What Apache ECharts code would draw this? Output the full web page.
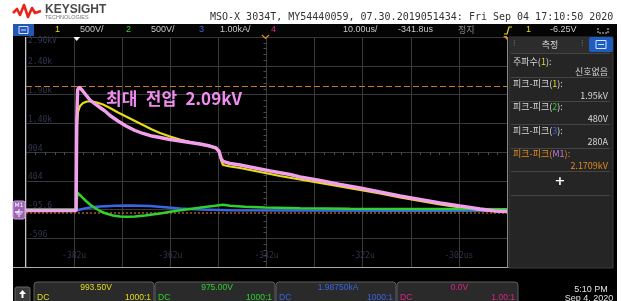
<!DOCTYPE html>
<html>
<head>
<meta charset="utf-8">
<script src="https://cdn.jsdelivr.net/npm/echarts@6/dist/echarts.min.js"></script>
<style>html,body{margin:0;padding:0;background:#fff}#c{width:621px;height:301px}</style>
</head>
<body>
<div id="c"></div>
<script>
// ---- data (time in µs from left screen edge, 10 µs/div; screen left = -391.8 µs) ----
const m1Time = [0,10.40,10.56,10.73,11.02,11.64,12.47,13.31,14.35,15.38,16.42,17.46,19.13,20.79,22.66,24.32,26.20,27.86,29.94,32.02,34.10,36.17,38.25,39.50,40.12,40.54,40.96,42.41,44.49,46.57,50.73,54.89,56.96,61.12,65.28,69.44,73.60,77.76,81.92,86.08,90.23,94.39,97.51,100];
const m1Volt = [-17,-17,1556,2078,2130,2078,1991,1904,1835,1774,1713,1635,1539,1452,1374,1322,1278,1252,1217,1191,1165,1139,1104,1070,1017,896,835,800,774,739,670,609,565,504,435,374,304,235,174,113,61,9,-26,-35];

const ch1Time = [0,10.46,10.60,10.81,11.23,11.85,12.68,13.72,14.76,16.01,17.46,19.13,20.79,22.66,24.32,26.20,27.86,29.94,32.02,34.10,36.17,38.25,39.50,40.12,40.54,40.96,42.41,44.49,48.65,52.81,56.96,61.12,65.28,69.44,73.60,77.76,81.92,86.08,90.23,94.39,97.51,100];
const ch1Volt = [-9,-9,1469,1696,1800,1852,1878,1878,1861,1826,1765,1687,1617,1539,1469,1391,1330,1270,1217,1174,1139,1096,1061,1000,861,774,748,722,652,583,522,461,400,339,278,209,148,87,35,-9,-26,-35];

const ch2Time = [0,10.50,10.65,11.02,11.64,12.47,13.31,14.35,15.38,16.63,18.09,19.54,21.00,22.66,24.74,27.86,30.98,34.10,37.21,39.29,40.96,42.41,45.53,49.69,56.96,67.36,77.76,88.15,100];
const ch2Volt = [0,0,296,270,217,148,87,26,-26,-70,-104,-122,-127,-122,-104,-70,-26,9,43,64,82,64,47,35,21,12,9,9,3];

const ch3Time = [0,10.50,11.23,13.31,15.38,18.50,21.62,25.78,28.90,32.02,36.17,42.41,56.96,77.76,100];
const ch3Amp  = [-42,-42,0,70,104,129,136,122,80,35,-3,-24,-38,-45,-45];

const cursorLevels = [2135, -61];           // orange dashed (M1 cursor) and dotted reference
const voltTickLabels = ['-596','-95.6','404','904','1.40k','1.90k','2.40k','2.90kV'];
const timeTickValues = [10,30,50,70,90];
const timeTickLabels = ['-382u','-362u','-342u','-322u','-302us'];

const measNames  = ['주파수(1):','피크-피크(1):','피크-피크(2):','피크-피크(3):','피크-피크(M1):'];
const measValues = ['신호없음','1.95kV','480V','280A','2.1709kV'];
const chanOffsets = ['993.50V','975.00V','1.98750kA','0.0V'];
const chanProbe   = ['1000:1','1000:1','1000:1','1.00:1'];
const chanScale   = ['500V/','500V/','1.00kA/'];

// ---- colours ----
const C1='#e6de14', C2='#2fd02f', C3='#3a66e6', C4='#e0208a', CM='#f2a0ee', OR='#e08a20';
const GRID='#3a3a3a', LBL='#30354f';
const pairs=(a,b)=>a.map((t,i)=>[t,b[i]]);

const chart = echarts.init(document.getElementById('c'), null, {renderer:'canvas'});

const g = []; // decorations
const T=(x,y,text,fill,font,align,extra)=>({type:'text',x:x,y:y,z:100,style:Object.assign({text:text,fill:fill,font:font,align:align||'left',verticalAlign:'middle'},extra||{})});
// screen background
g.push({type:'rect',z:-100,shape:{x:13,y:24,width:604,height:277},style:{fill:'#000'}});
g.push({type:'rect',z:-99,shape:{x:13,y:24,width:604,height:12},style:{fill:'#050505'}});
// logo
g.push({type:'polyline',z:100,shape:{points:[[13,13],[17,9],[20,15],[24,5],[28,17],[32,8],[35,13],[41,11]]},style:{stroke:'#e8251b',lineWidth:2.6,fill:null,lineJoin:'round'}});
g.push(T(45,10,'KEYSIGHT','#4a4a4a','bold 12px "Liberation Sans"'));
g.push(T(45,17.5,'TECHNOLOGIES','#777','5.5px "Liberation Sans"'));
g.push(T(210,17,'MSO-X 3034T, MY54440059, 07.30.2019051434: Fri Sep 04 17:10:50 2020','#333','10px "DejaVu Sans Mono"'));
// top bar
g.push({type:'rect',z:100,shape:{x:13,y:24,width:21,height:12},style:{fill:'#2457b4'}});
g.push({type:'rect',z:101,shape:{x:19,y:26.5,width:9,height:7},style:{fill:null,stroke:'#cfe0ff',lineWidth:1}});
g.push({type:'line',z:101,shape:{x1:21,y1:30,x2:26,y2:30},style:{stroke:'#cfe0ff',lineWidth:1}});
const bf='9px "Liberation Sans"';
g.push(T(55,30,'1',C1,bf)); g.push(T(80,30,chanScale[0],'#c8c8c8',bf));
g.push(T(126,30,'2',C2,bf)); g.push(T(151,30,chanScale[1],'#c8c8c8',bf));
g.push(T(199,30,'3',C3,bf)); g.push(T(220,30,chanScale[2],'#c8c8c8',bf));
g.push(T(271,30,'4',C4,bf));
g.push(T(343,30,'10.00us/','#c8c8c8',bf));
g.push(T(398,30,'-341.8us','#c8c8c8',bf));
g.push(T(458,30,'정지','#8a8a8a','9px "Noto Sans CJK KR"'));
g.push({type:'polyline',z:100,shape:{points:[[504,34],[507,34],[509,27],[512,27]]},style:{stroke:C1,lineWidth:1.2,fill:null}});
g.push(T(526,30,'1',C1,bf));
g.push(T(550,30,'-6.25V','#c8c8c8',bf));
g.push({type:'polyline',z:100,shape:{points:[[598,28],[598,33],[608,33],[608,28]]},style:{stroke:'#ccc',lineWidth:1,fill:null,lineDash:[2,1]}});
// markers at top of plot
g.push({type:'polygon',z:100,shape:{points:[[73.5,37],[80,37],[76.7,41]]},style:{fill:'#fff'}});
g.push({type:'polyline',z:100,shape:{points:[[262,35],[265.5,38.5],[269,35]]},style:{stroke:OR,lineWidth:1.2,fill:null}});
g.push({type:'polygon',z:100,shape:{points:[[503,36],[507,36],[507,40]]},style:{fill:OR}});
// plot borders
g.push({type:'line',z:50,shape:{x1:25.5,y1:37,x2:25.5,y2:268},style:{stroke:'#c8c8c8',lineWidth:1}});
g.push({type:'line',z:50,shape:{x1:13,y1:267.5,x2:613,y2:267.5},style:{stroke:'#a8a8a8',lineWidth:1}});
g.push({type:'line',z:50,shape:{x1:507.5,y1:37,x2:507.5,y2:268},style:{stroke:'#8a8a8a',lineWidth:1}});
// M1 ground marker
g.push({type:'rect',z:100,shape:{x:13,y:201,width:12,height:18,r:2},style:{fill:'#9c62b4',stroke:'#cfa0e0',lineWidth:1}});
g.push(T(19,205.5,'M1','#fff','6px "DejaVu Sans"','center'));
g.push({type:'polyline',z:101,shape:{points:[[19,209],[19,212],[15,212],[23,212]]},style:{stroke:'#fff',lineWidth:1,fill:null}});
g.push({type:'line',z:101,shape:{x1:16.5,y1:214,x2:21.5,y2:214},style:{stroke:'#fff',lineWidth:1}});
g.push({type:'line',z:101,shape:{x1:18,y1:216,x2:20,y2:216},style:{stroke:'#fff',lineWidth:1}});
// annotation
g.push(T(106,99,'최대\u2002전압\u20022.09kV','#f08cf0','bold 17px "Noto Sans CJK KR"'));
// right panel
g.push({type:'rect',z:60,shape:{x:509,y:37,width:104,height:231},style:{fill:'#252525',stroke:'#3e3e3e',lineWidth:1}});
g.push({type:'rect',z:61,shape:{x:509,y:37,width:104,height:16},style:{fill:'#2c2c2c'}});
g.push(T(550,44.5,'측정','#d8d8d8','9px "Noto Sans CJK KR"','center'));
g.push(T(513,44,'⁞','#666','8px "DejaVu Sans"'));
g.push(T(581,44,'⁞','#666','8px "DejaVu Sans"'));
g.push({type:'rect',z:62,shape:{x:589,y:37,width:24,height:15,r:2},style:{fill:'#1f5cc0'}});
g.push({type:'rect',z:63,shape:{x:596,y:40.5,width:10,height:8},style:{fill:null,stroke:'#d8e6ff',lineWidth:1}});
g.push({type:'line',z:63,shape:{x1:598,y1:44.5,x2:604,y2:44.5},style:{stroke:'#d8e6ff',lineWidth:1}});
const sepY=[53.5,77.5,101.5,124.5,148.5,171.5,195.5];
sepY.forEach(y=>g.push({type:'line',z:62,shape:{x1:511,y1:y,x2:610,y2:y},style:{stroke:'#454545',lineWidth:1}}));
const pf='9px "Noto Sans CJK KR"';
const nameY=[62,84,107,130.5,154], valY=[72,95.5,118.5,142,165.5];
const numCol=[C1,C1,C2,C3,'#c07ad8'];
measNames.forEach((n,i)=>{
  const m=n.match(/^(.*\()(.+)(\):)$/);
  const base = i===4?OR:'#d8d8d8';
  g.push(T(513,nameY[i],'{a|'+m[1]+'}{b|'+m[2]+'}{a|'+m[3]+'}',base,pf,'left',{rich:{a:{fill:base,font:pf},b:{fill:numCol[i],font:pf}}}));
  g.push(T(608,valY[i],measValues[i],i===4?OR:'#d8d8d8',pf,'right'));
});
g.push(T(560,182,'+','#fff','bold 13px "DejaVu Sans"','center'));
// bottom channel boxes
g.push({type:'rect',z:60,shape:{x:15,y:287,width:15,height:20,r:2},style:{fill:'#3a3a3a',stroke:'#666',lineWidth:1}});
g.push({type:'polygon',z:61,shape:{points:[[22.5,290],[19,294],[21.5,294],[21.5,298],[23.5,298],[23.5,294],[26,294]]},style:{fill:'#fff'}});
const boxX=[34,155,276,397], boxW=[120,120,120,121], chCols=[C1,C2,C3,C4];
const sf='8.5px "Liberation Sans"';
boxX.forEach((x,i)=>{
  g.push({type:'rect',z:60,shape:{x:x,y:282,width:boxW[i],height:24,r:3},style:{fill:'#2a2a2a',stroke:'#5e5e5e',lineWidth:1}});
  g.push(T(x+boxW[i]/2+2,288,chanOffsets[i],chCols[i],sf,'center'));
  g.push(T(x+3,297.5,'DC',chCols[i],sf));
  g.push(T(x+boxW[i]-3,297.5,chanProbe[i],chCols[i],sf,'right'));
});
g.push(T(591,290,'5:10 PM','#e0e0e0','9px "Liberation Sans"','center'));
g.push(T(589,298.5,'Sep 4, 2020','#e0e0e0','9px "Liberation Sans"','center'));

const option = {
  backgroundColor:'#ffffff',
  animation:false,
  grid:{left:26,top:37,width:481,height:230,containLabel:false},
  xAxis:[
    {type:'value',min:0,max:100,interval:10,
     axisLine:{show:false,onZero:false},axisTick:{show:false},
     splitLine:{show:true,lineStyle:{color:GRID,width:1}},
     axisLabel:{show:true,inside:true,margin:7,color:LBL,fontSize:8,fontFamily:'DejaVu Sans Mono',hideOverlap:false,
       formatter:v=>{const k=timeTickValues.indexOf(Math.round(v));return k>=0?timeTickLabels[k]:'';}}},
    {type:'value',min:-50,max:50,interval:2,position:'top',
     axisLine:{show:true,onZero:true,onZeroAxisIndex:1,lineStyle:{color:GRID}},
     axisTick:{show:true,inside:true,length:3,lineStyle:{color:'#4a4a4a'}},
     axisLabel:{show:false},splitLine:{show:false}}
  ],
  yAxis:[
    {type:'value',min:-1000,max:3000,interval:500,
     axisLine:{show:false,onZero:false},axisTick:{show:false},
     splitLine:{show:true,lineStyle:{color:GRID,width:1}},
     axisLabel:{show:true,inside:true,margin:2,verticalAlign:'middle',fontSize:8,fontFamily:'DejaVu Sans Mono',color:LBL,
       formatter:v=>{const i=Math.round((v+1000)/500);if(i<=0)return '';const s=voltTickLabels[i-1];return v>=3000?'{t|'+s+'}':'{n|'+s+'}';},
       rich:{t:{padding:[7,0,0,0],color:LBL,fontSize:8,fontFamily:'DejaVu Sans Mono'},n:{padding:[0,0,7,0],color:LBL,fontSize:8,fontFamily:'DejaVu Sans Mono'}}}},
    {type:'value',min:-2000,max:2000,interval:100,position:'right',
     axisLine:{show:true,onZero:true,onZeroAxisIndex:1,lineStyle:{color:GRID}},
     axisTick:{show:true,inside:true,length:3,lineStyle:{color:'#4a4a4a'}},
     axisLabel:{show:false},splitLine:{show:false}},
    {type:'value',min:-2000,max:6000,show:false,position:'right',axisLine:{onZero:false},splitLine:{show:false}}
  ],
  series:[
    {name:'3',type:'line',yAxisIndex:2,data:pairs(ch3Time,ch3Amp),showSymbol:false,symbol:'none',
     lineStyle:{color:C3,width:2.5},z:3},
    {name:'1',type:'line',data:pairs(ch1Time,ch1Volt),showSymbol:false,symbol:'none',
     lineStyle:{color:C1,width:2.2},z:4},
    {name:'2',type:'line',data:pairs(ch2Time,ch2Volt),showSymbol:false,symbol:'none',
     lineStyle:{color:C2,width:2.5},z:5,
     markLine:{silent:true,symbol:'none',label:{show:false},animation:false,
       data:[{yAxis:cursorLevels[0],lineStyle:{color:'#c8781e',type:[6,3],width:1.2}},
             {yAxis:cursorLevels[1],lineStyle:{color:'#a85a18',type:[2,2],width:1.5}}]}},
    {name:'M1',type:'line',data:pairs(m1Time,m1Volt),showSymbol:false,symbol:'none',
     lineStyle:{color:CM,width:3.4},z:6}
  ],
  graphic:{elements:g}
};
chart.setOption(option);
</script>
</body>
</html>
